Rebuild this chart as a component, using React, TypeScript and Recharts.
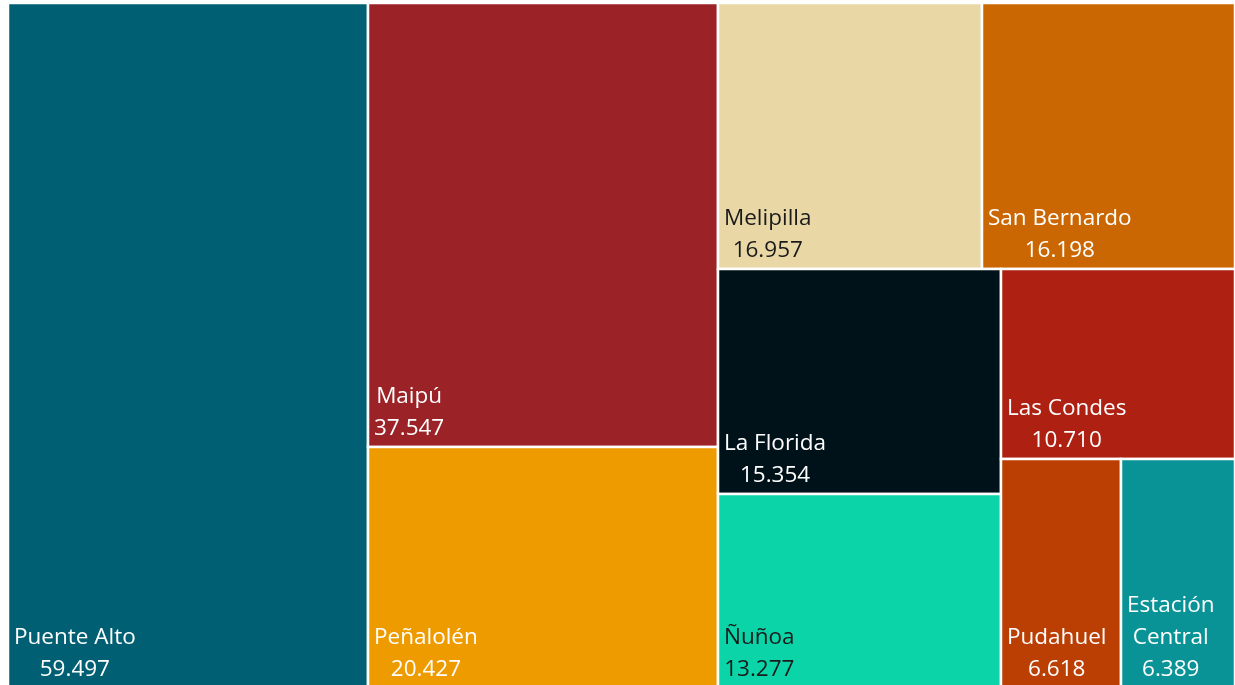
import { Treemap } from 'recharts'

const NAMES = [
  'Puente Alto',
  'Maipú',
  'Peñalolén',
  'Melipilla',
  'San Bernardo',
  'La Florida',
  'Ñuñoa',
  'Las Condes',
  'Pudahuel',
  'Estación Central',
]
const VALUES = [59497, 37547, 20427, 16957, 16198, 15354, 13277, 10710, 6618, 6389]

const COLORS = [
  '#005f73',
  '#9b2226',
  '#ee9b00',
  '#e9d8a6',
  '#ca6702',
  '#001219',
  '#0bd5a8',
  '#ae2012',
  '#bb3e03',
  '#0a9396',
]
const DARK_TEXT = new Set([3, 6])

const FONT = '"Open Sans", sans-serif'
const FONT_SIZE = 22.5
const LINE_H = 32
const PAD = 6

const data = NAMES.map((name, i) => ({ name, value: VALUES[i] }))

const formatValue = (v: number) => String(v).replace(/\B(?=(\d{3})+(?!\d))/g, '.')

let ctx: CanvasRenderingContext2D | null = null
function textWidth(s: string) {
  if (!ctx) ctx = document.createElement('canvas').getContext('2d')
  if (!ctx) return s.length * FONT_SIZE * 0.55
  ctx.font = `${FONT_SIZE}px ${FONT}`
  return ctx.measureText(s).width
}

function wrap(text: string, maxW: number) {
  const words = text.split(' ')
  const lines: string[] = []
  let cur = ''
  for (const w of words) {
    const next = cur ? `${cur} ${w}` : w
    if (cur && textWidth(next) > maxW) {
      lines.push(cur)
      cur = w
    } else {
      cur = next
    }
  }
  if (cur) lines.push(cur)
  return lines
}

function Cell(props: any) {
  const { x, y, width, height, depth, index, name, value } = props
  if (depth !== 1) return null
  const lines = [...wrap(name, width - PAD * 2), formatValue(value)]
  const blockW = Math.max(...lines.map(textWidth))
  const cx = x + PAD + blockW / 2
  const bottom = y + height - 12.5
  const color = DARK_TEXT.has(index) ? '#1a1a1a' : '#ffffff'
  return (
    <g>
      <rect x={x} y={y} width={width} height={height} fill={COLORS[index]} stroke="#fff" strokeWidth={2.5} />
      {lines.map((line, i) => (
        <text
          key={i}
          x={cx}
          y={bottom - (lines.length - 1 - i) * LINE_H}
          textAnchor="middle"
          fill={color}
          fontFamily={FONT}
          fontSize={FONT_SIZE}
        >
          {line}
        </text>
      ))}
    </g>
  )
}

export default function App() {
  return (
    <div style={{ position: 'fixed', left: 8, top: 3, width: 1227, height: 685 }}>
      <Treemap
        width={1227}
        height={685}
        data={data}
        dataKey="value"
        nameKey="name"
        aspectRatio={1}
        isAnimationActive={false}
        content={<Cell />}
      />
    </div>
  )
}
